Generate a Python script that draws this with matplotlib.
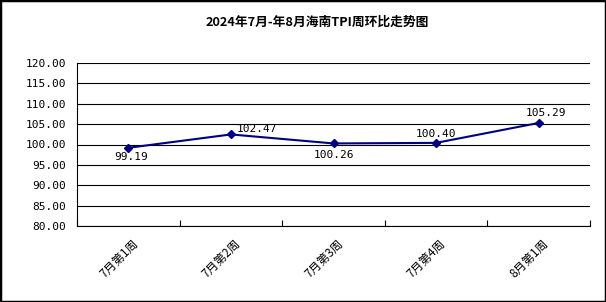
import numpy as np
import matplotlib
matplotlib.use("Agg")
import matplotlib.pyplot as plt
from matplotlib.patches import Rectangle

plt.rcParams['font.family'] = ['Noto Sans CJK SC', 'DejaVu Sans']

# Data
weeks = ["7月第1周", "7月第2周", "7月第3周", "7月第4周", "8月第1周"]
values = [99.19, 102.47, 100.26, 100.40, 105.29]
# label offsets in points (dx, dy)
label_pos = [(2, -6.5), (19, 3.6), (0, -8), (0, 6.5), (5, 7)]

fig = plt.figure(figsize=(6.06, 3.02), dpi=100)
ax = fig.add_axes([77 / 606, 76 / 302, 513 / 606, 163 / 302])

x = np.arange(len(weeks))
ax.plot(x, values, color='#000080', lw=1.5, marker='D', ms=4.5, zorder=3)

for xi, v, (dx, dy) in zip(x, values, label_pos):
    ax.annotate(f"{v:.2f}", (xi, v), xytext=(dx, dy), textcoords='offset points',
                ha='center', va='center', fontsize=8, family='DejaVu Sans Mono')

ax.set_ylim(80, 120)
ax.set_yticks(np.arange(80, 121, 5))
ax.set_yticklabels([f"{t:.2f}" for t in np.arange(80, 121, 5)],
                   family='DejaVu Sans Mono', fontsize=8)
ax.yaxis.grid(True, color='black', lw=0.8)
ax.set_axisbelow(True)
ax.tick_params(axis='y', length=0, pad=8)

ax.set_xlim(-0.5, len(weeks) - 0.5)
ax.set_xticks(x + 0.03)
ax.set_xticklabels(weeks, rotation=45, ha='right', rotation_mode='anchor', fontsize=8.5)
ax.tick_params(axis='x', length=0, pad=8)
ax.set_xticks(np.arange(-0.5, len(weeks)), minor=True)
ax.tick_params(axis='x', which='minor', direction='in', length=4, width=0.8, color='black')

for s in ['top', 'right']:
    ax.spines[s].set_visible(False)
for s in ['left', 'bottom']:
    ax.spines[s].set_linewidth(0.8)

fig.text(0.523, 0.927, "2024年7月-年8月海南TPI周环比走势图", ha='center', va='center',
         fontsize=9.2, fontweight='bold')

fig.patches.append(Rectangle((0, 0), 1, 1, transform=fig.transFigure, fill=False,
                             edgecolor='black', lw=2.5))

fig.savefig("out.png", dpi=100)
